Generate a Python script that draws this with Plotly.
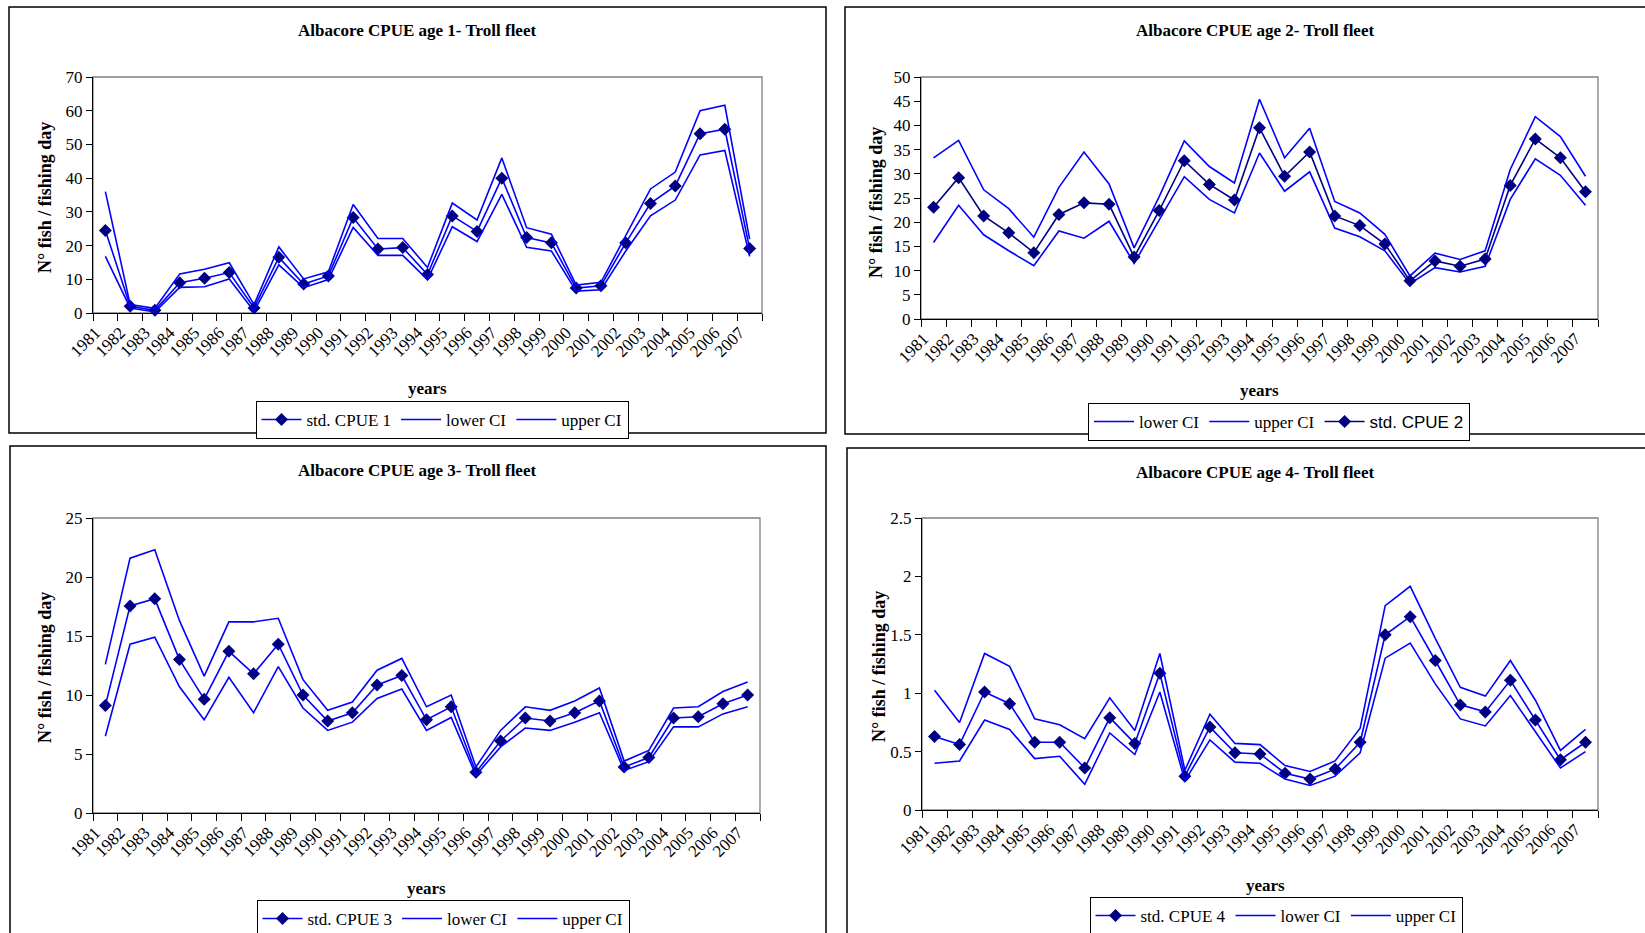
import plotly.graph_objects as go

# ---------------- data ----------------
years = ["1981", "1982", "1983", "1984", "1985", "1986", "1987", "1988", "1989",
         "1990", "1991", "1992", "1993", "1994", "1995", "1996", "1997", "1998",
         "1999", "2000", "2001", "2002", "2003", "2004", "2005", "2006", "2007"]

std1 = [24.5, 2.0, 0.8, 9.0, 10.3, 12.0, 1.5, 16.5, 8.6, 11.0, 28.3, 19.0, 19.4, 11.4,
        28.8, 24.2, 40.0, 22.4, 20.8, 7.4, 8.1, 20.8, 32.5, 37.7, 53.2, 54.5, 19.1]
low1 = [16.8, 1.5, 0.3, 7.6, 7.8, 10.1, 0.5, 14.3, 7.5, 9.9, 25.4, 17.1, 17.1, 9.9,
        25.6, 21.2, 35.2, 19.5, 18.4, 6.5, 6.9, 18.4, 28.8, 33.5, 46.9, 48.2, 16.8]
up1 = [36.0, 2.5, 1.4, 11.6, 13.0, 14.9, 2.5, 19.6, 10.1, 12.2, 32.2, 22.1, 22.1, 13.5,
       32.6, 27.6, 46.0, 25.3, 23.4, 8.3, 9.1, 23.0, 36.8, 41.8, 60.0, 61.6, 21.9]

std2 = [23.1, 29.2, 21.3, 17.8, 13.7, 21.6, 24.0, 23.7, 12.8, 22.4, 32.7, 27.8, 24.6, 39.5,
        29.5, 34.5, 21.3, 19.3, 15.5, 7.9, 12.0, 10.9, 12.4, 27.6, 37.2, 33.3, 26.3]
low2 = [15.8, 23.5, 17.4, 14.1, 11.0, 18.2, 16.7, 20.2, 11.5, 20.6, 29.4, 24.7, 21.9, 34.3,
        26.4, 30.4, 18.8, 17.0, 14.1, 7.3, 10.6, 9.7, 10.9, 24.7, 33.1, 29.7, 23.5]
up2 = [33.3, 36.9, 26.7, 22.8, 16.9, 27.2, 34.5, 27.9, 14.7, 25.3, 36.8, 31.5, 28.1, 45.4,
       33.3, 39.4, 24.3, 21.9, 17.5, 8.9, 13.6, 12.3, 14.1, 30.9, 41.8, 37.7, 29.5]

std3 = [9.1, 17.55, 18.15, 13.0, 9.65, 13.7, 11.8, 14.3, 10.0, 7.8, 8.5, 10.85, 11.65, 7.9,
        9.0, 3.45, 6.1, 8.05, 7.8, 8.5, 9.5, 3.9, 4.7, 8.05, 8.15, 9.25, 10.0]
low3 = [6.5, 14.3, 14.9, 10.7, 7.9, 11.5, 8.5, 12.4, 8.9, 7.0, 7.7, 9.7, 10.5, 7.0,
        8.1, 3.2, 5.6, 7.2, 7.0, 7.7, 8.5, 3.6, 4.35, 7.3, 7.3, 8.4, 9.0]
up3 = [12.6, 21.6, 22.3, 16.3, 11.6, 16.2, 16.2, 16.5, 11.3, 8.7, 9.4, 12.1, 13.1, 9.0,
       10.0, 3.9, 7.0, 9.0, 8.7, 9.5, 10.6, 4.4, 5.3, 8.9, 9.0, 10.3, 11.1]

std4 = [0.63, 0.56, 1.01, 0.91, 0.58, 0.58, 0.36, 0.79, 0.57, 1.17, 0.29, 0.71, 0.49, 0.48,
        0.315, 0.265, 0.35, 0.58, 1.50, 1.655, 1.28, 0.90, 0.84, 1.11, 0.77, 0.43, 0.58]
low4 = [0.40, 0.42, 0.77, 0.69, 0.44, 0.46, 0.22, 0.66, 0.475, 1.01, 0.25, 0.60, 0.41, 0.40,
        0.265, 0.21, 0.29, 0.49, 1.30, 1.43, 1.08, 0.78, 0.72, 0.98, 0.67, 0.36, 0.50]
up4 = [1.025, 0.75, 1.34, 1.23, 0.78, 0.73, 0.61, 0.96, 0.68, 1.34, 0.34, 0.82, 0.57, 0.56,
       0.38, 0.33, 0.42, 0.70, 1.75, 1.915, 1.47, 1.05, 0.975, 1.28, 0.94, 0.51, 0.69]

titles = ["Albacore CPUE age 1- Troll fleet", "Albacore CPUE age 2- Troll fleet",
          "Albacore CPUE age 3- Troll fleet", "Albacore CPUE age 4- Troll fleet"]
y_ranges = [(0, 70, 10), (0, 50, 5), (0, 25, 5), (0, 2.5, 0.5)]

# ---------------- styling ----------------
W, H = 1645, 933
SERIF = "Liberation Serif, Times New Roman, serif"
SANS = "Liberation Sans, Arial, sans-serif"
BLUE = "#0000FF"
NAVY = "#000080"


def px(x):
    return x / W


def py(y):
    return 1 - y / H


# plot areas in pixel coords (left, right, top, bottom)
areas = [(93, 762, 77, 313), (921, 1598, 77, 319), (93, 760, 518, 813), (922, 1598, 518, 810)]
frames = [(9, 826, 7, 433), (845, 1660, 7, 434), (10, 826, 446, 945), (847, 1660, 448, 945)]
title_pos = [(417, 30), (1255, 30), (417, 471), (1255, 473)]
xtitle_pos = [(427, 388), (1259, 390), (426, 888), (1265, 885)]
ytitle_pos = [(45, 198), (876, 203), (45, 668), (879, 666)]
legend_pos = [(442, 401), (1279, 403), (443, 900), (1276, 897)]

fig = go.Figure()

series = [(std1, low1, up1), (std2, low2, up2), (std3, low3, up3), (std4, low4, up4)]

for i, (s, lo, hi) in enumerate(series):
    k = i + 1
    xa = "x" if k == 1 else f"x{k}"
    ya = "y" if k == 1 else f"y{k}"
    lg = "legend" if k == 1 else f"legend{k}"
    std_color = NAVY if k == 2 else BLUE
    std_name = f"std. CPUE {k}"
    if k == 2:
        std_name = f"<span style='font-family:Liberation Sans, Arial, sans-serif'>{std_name}</span>"
    std_trace = go.Scatter(x=years, y=s, name=std_name, mode="lines+markers",
                           line=dict(color=std_color, width=1.6),
                           marker=dict(symbol="diamond", size=10, color=NAVY),
                           xaxis=xa, yaxis=ya, legend=lg, cliponaxis=False)
    low_trace = go.Scatter(x=years, y=lo, name="lower CI", mode="lines",
                           line=dict(color=BLUE, width=1.6), xaxis=xa, yaxis=ya, legend=lg)
    up_trace = go.Scatter(x=years, y=hi, name="upper CI", mode="lines",
                          line=dict(color=BLUE, width=1.6), xaxis=xa, yaxis=ya, legend=lg)
    if k == 2:
        for t in (low_trace, up_trace, std_trace):
            fig.add_trace(t)
    else:
        for t in (std_trace, low_trace, up_trace):
            fig.add_trace(t)

layout = dict(
    width=W, height=H,
    margin=dict(l=0, r=0, t=0, b=0, pad=0, autoexpand=False),
    paper_bgcolor="white", plot_bgcolor="white",
    font=dict(family=SERIF, color="black", size=16),
    showlegend=True,
    shapes=[], annotations=[],
)

for i in range(4):
    k = i + 1
    l, r, t, b = areas[i]
    y0, y1, dt = y_ranges[i]
    xk = "xaxis" if k == 1 else f"xaxis{k}"
    yk = "yaxis" if k == 1 else f"yaxis{k}"
    layout[xk] = dict(
        domain=[px(l), px(r)], anchor="y" if k == 1 else f"y{k}",
        type="category", tickson="boundaries", ticks="outside", ticklen=7,
        range=[-0.5, len(years) - 0.5], automargin=False,
        tickcolor="black", tickwidth=1.3,
        showline=True, linecolor="black", linewidth=1.3, showgrid=False, zeroline=False,
        tickangle=-45, tickfont=dict(family=SERIF, size=17, color="black"),
        ticklabelstandoff=2, ticklabelshift=-10, fixedrange=True,
    )
    layout[yk] = dict(
        domain=[py(b), py(t)], anchor="x" if k == 1 else f"x{k}",
        range=[y0, y1], dtick=dt, tick0=0, ticks="outside", ticklen=6,
        tickcolor="black", tickwidth=1.3, automargin=False,
        showline=True, linecolor="black", linewidth=1.3, showgrid=False, zeroline=False,
        tickfont=dict(family=SERIF, size=17, color="black"), fixedrange=True,
    )
    # gray plot-area border (top/right)
    layout["shapes"].append(dict(type="rect", xref="paper", yref="paper",
                                 x0=px(l), x1=px(r), y0=py(b), y1=py(t),
                                 line=dict(color="#808080", width=1.3), layer="below"))
    # outer chart frame
    fl, fr, ft, fb = frames[i]
    layout["shapes"].append(dict(type="rect", xref="paper", yref="paper",
                                 x0=px(fl), x1=px(fr), y0=py(fb), y1=py(ft),
                                 line=dict(color="black", width=1.5)))
    # titles
    tx, ty = title_pos[i]
    layout["annotations"].append(dict(text=f"<b>{titles[i]}</b>", x=px(tx), y=py(ty),
                                      xref="paper", yref="paper", showarrow=False,
                                      xanchor="center", yanchor="middle",
                                      font=dict(family=SERIF, size=17, color="black")))
    xx, xy = xtitle_pos[i]
    layout["annotations"].append(dict(text="<b>years</b>", x=px(xx), y=py(xy),
                                      xref="paper", yref="paper", showarrow=False,
                                      xanchor="center", yanchor="middle",
                                      font=dict(family=SERIF, size=17, color="black")))
    yx, yy = ytitle_pos[i]
    layout["annotations"].append(dict(text="<b>N° fish / fishing day</b>", x=px(yx), y=py(yy),
                                      xref="paper", yref="paper", showarrow=False,
                                      textangle=-90, xanchor="center", yanchor="middle",
                                      font=dict(family=SERIF, size=18, color="black")))
    lx, ly = legend_pos[i]
    lgk = "legend" if k == 1 else f"legend{k}"
    layout[lgk] = dict(x=px(lx), y=py(ly), xanchor="center", yanchor="top",
                       orientation="h", bordercolor="black", borderwidth=1,
                       bgcolor="white", font=dict(family=SERIF, size=17, color="black"),
                       itemwidth=40, tracegroupgap=0)

fig.update_layout(**layout)
fig.write_html("out.html", config={"displayModeBar": False},
               post_script="document.body.style.margin='0';document.body.style.overflow='hidden';")
